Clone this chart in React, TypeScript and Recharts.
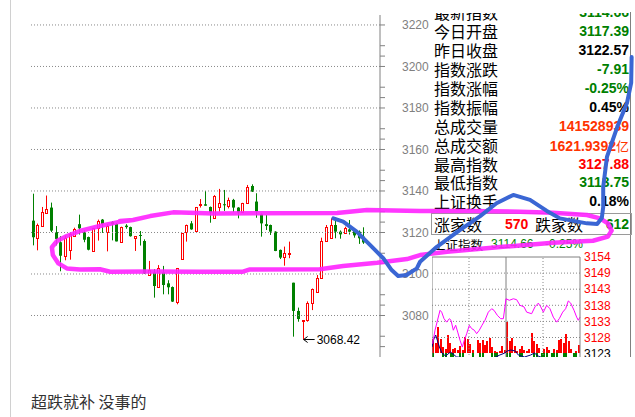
import React from "react";
import { ComposedChart, Bar, Line, Scatter, XAxis, YAxis, ReferenceLine, ReferenceDot } from "recharts";

// daily candles (open / close / high / low), oldest first
const opens = [3125.7, 3117.3, 3123, 3129.4, 3132, 3120.2, 3115.3, 3108.8, 3111.4, 3118.5, 3124, 3120.1, 3117.8, 3110.9, 3122.2, 3126.2, 3120.6, 3125, 3124.1, 3115.4, 3123.3, 3122.6, 3117.5, 3118.8, 3115.9, 3099.5, 3100.8, 3094, 3100.8, 3095.5, 3093.7, 3086.2, 3107.1, 3120, 3124.4, 3120.4, 3132.9, 3133.6, 3132.3, 3127.2, 3132.1, 3133.6, 3132.9, 3135.7, 3132, 3129.7, 3134.5, 3142.4, 3134.9, 3128.8, 3124, 3123.6, 3120.4, 3111.6, 3108, 3109.5, 3095.8, 3082.2, 3077.3, 3077.8, 3086.2, 3091.5, 3097.9, 3115.9, 3117.2, 3123.6, 3120.4, 3119.6, 3121.5, 3120.8, 3120.4, 3118];
const closes = [3117.7, 3123.8, 3129.9, 3131.3, 3120.9, 3116.9, 3108.8, 3117.3, 3119.3, 3121.7, 3122, 3116.5, 3111.7, 3122.2, 3125.4, 3124.1, 3123.3, 3124, 3115.7, 3122.6, 3122.6, 3118.2, 3118.3, 3118.5, 3100.3, 3101.9, 3094.2, 3103.1, 3094.7, 3093.6, 3086.7, 3102.7, 3119.6, 3123.6, 3121.5, 3132.1, 3133.6, 3132.9, 3129.6, 3137.6, 3134.1, 3133.4, 3135.7, 3132, 3129.6, 3134.1, 3142.1, 3139.7, 3130, 3124.4, 3123.1, 3120.4, 3111.1, 3107.9, 3110, 3110, 3082.2, 3078.3, 3077.8, 3086.2, 3092.8, 3098.2, 3115.9, 3122.8, 3123.6, 3120.4, 3119.1, 3122, 3120.4, 3118.6, 3117.2, 3115.2];
const highs = [3138.7, 3124.3, 3132.3, 3137.8, 3134.4, 3123.1, 3118.2, 3118.5, 3120, 3122.3, 3128.6, 3121, 3118, 3122.2, 3126.2, 3126.5, 3124, 3125.5, 3124.5, 3122.8, 3124, 3122.8, 3118.3, 3120.7, 3116.7, 3106.3, 3102.3, 3104.3, 3103.9, 3097, 3094, 3102.9, 3119.8, 3123.8, 3125.5, 3132.3, 3136.1, 3140, 3132.5, 3138, 3141, 3140.5, 3136.8, 3136.2, 3132.2, 3134.3, 3142.9, 3143.2, 3138.9, 3129.2, 3128.4, 3123.8, 3120.6, 3111.8, 3113.2, 3115.6, 3095.8, 3083.8, 3077.8, 3086.8, 3093, 3099.5, 3117.5, 3123.6, 3126.8, 3126.8, 3121, 3122.8, 3126, 3121.5, 3121, 3122.5];
const lows = [3113.8, 3111.4, 3123, 3129.4, 3120.2, 3113.8, 3101.3, 3106.6, 3106.9, 3118.5, 3119, 3115.3, 3111.4, 3110.9, 3116.1, 3119.8, 3110.9, 3116.2, 3115.7, 3115.4, 3121.8, 3118, 3111.1, 3113.7, 3100, 3099.2, 3088.6, 3094, 3090.2, 3090.2, 3086.5, 3085.4, 3107, 3115.6, 3121.3, 3120.4, 3132, 3132.9, 3124.7, 3127.2, 3130, 3130.4, 3131.6, 3129.8, 3126.8, 3129.5, 3134.5, 3139.5, 3127.1, 3118, 3121.2, 3118.8, 3111, 3107.2, 3104, 3107.6, 3069.8, 3077, 3068.42, 3077, 3082.6, 3091.5, 3097.9, 3115.9, 3117.2, 3117.2, 3117, 3119.6, 3119, 3117.5, 3114.5, 3114.5];

const gridValues = [3220, 3200, 3180, 3160, 3140, 3120, 3100, 3080];
const axisTicks = [3220, 3210, 3205, 3200, 3190, 3185, 3180, 3170, 3165, 3160, 3150, 3145, 3140, 3130, 3125, 3120, 3110, 3105, 3100, 3090, 3085, 3080, 3070, 3065];

// hand-drawn marks, in (candle index, index level)
const loopIdx = [21.6, 18.4, 14.5, 10.2, 7.4, 5.3, 4.2, 4.4, 5.6, 7.4, 10.2, 14.5, 16.7, 25.3, 36, 45.2, 46.7, 61.7, 66.7, 74, 80.4, 83.2, 89, 101, 111.7, 120.3, 123.5, 124.3, 123.5, 121.8, 119, 111.7, 104.6, 93.9, 83.2, 71.8, 65.4, 38.8, 30.2, 25.3, 21.6, 18.8];
const loopVal = [3126, 3125, 3123.1, 3120.7, 3118.3, 3115.9, 3112.9, 3109.1, 3105.1, 3102.7, 3102.2, 3102.3, 3101.1, 3101.2, 3101.1, 3101.1, 3102.2, 3102.3, 3103.8, 3105.4, 3107.2, 3109.1, 3110.7, 3113.1, 3115.1, 3116, 3118, 3120.9, 3124.4, 3126.8, 3128.4, 3129.5, 3130, 3130.4, 3130.4, 3130.8, 3129.4, 3129.2, 3129.7, 3127.9, 3126, 3125.5];
const curveIdx = [64.6, 66.7, 69.6, 72.45, 75.3, 77.1, 78.5, 80.3, 82.5, 83.2, 86.8, 91.8, 96.1, 99.6, 103.2, 106.8, 110.4, 113.2, 119, 121.2, 122.2, 122.5, 122.5, 123.3, 125.5, 127.6, 128.5, 128.6];
const curveVal = [3126.8, 3125.2, 3120.4, 3114, 3107.6, 3101.9, 3099, 3099.5, 3102.7, 3105.9, 3113.1, 3121.2, 3127.9, 3134.1, 3138.1, 3135.7, 3130.4, 3126.8, 3124.4, 3124.1, 3127, 3132.3, 3141.9, 3156.4, 3170.8, 3182.4, 3192.1, 3204.6];

// quote panel
const infoLabels = ["最新指数", "今日开盘", "昨日收盘", "指数涨跌", "指数涨幅", "指数振幅", "总成交量", "总成交额", "最高指数", "最低指数", "上证换手"];
const infoValues = ["3114.66", "3117.39", "3122.57", "-7.91", "-0.25%", "0.45%", "141528939", "1621.9392", "3127.88", "3113.75", "0.18%"];
const infoColors = ["#008000", "#008000", "#000", "#008000", "#008000", "#000", "#ff3300", "#ff3300", "#ff0000", "#008000", "#000"];

// intraday mini chart
const miniT = [1.1, 4.9, 13, 15.7, 19.5, 23.8, 28.1, 30.8, 34.6, 38.4, 41.7, 45.4, 49.2, 52.4, 56.3, 60.5, 64.4, 68.6, 72.4, 76.7, 81.1, 85.9, 91.3, 96.8, 100.5, 105.9, 111.4, 115.7, 120, 125.4, 131.9, 137.3, 142.7, 149.2, 153.5, 161.6, 167, 172.4, 176.3, 180.6, 186, 191.3, 196.7, 202.2, 206.4, 211.9, 216.7, 221, 224.9, 230.3, 234.6, 237.2, 240];
const miniPrice = [3126.2, 3130.5, 3136.9, 3136.3, 3134.2, 3133.1, 3134.2, 3133.7, 3130.5, 3132.1, 3129.9, 3127.3, 3125.1, 3127.3, 3129.4, 3132.1, 3131, 3130.5, 3129.4, 3130.5, 3132.1, 3133.7, 3136.3, 3137.4, 3136.9, 3135.3, 3134.2, 3134.2, 3140.6, 3140.1, 3140.6, 3140.3, 3138.5, 3138, 3136.3, 3135.8, 3138, 3139.2, 3138, 3136.3, 3138.5, 3137.4, 3134.7, 3133.1, 3134.2, 3136.3, 3137.4, 3139.9, 3139.2, 3136.9, 3134.7, 3133.7, 3134.7];
const volT = [2, 6, 10, 14, 18, 22, 26, 30, 34, 38, 42, 46, 50, 54, 58, 62, 66, 70, 74, 78, 82, 86, 90, 94, 98, 102, 106, 110, 114, 118, 122, 126, 130, 134, 138, 142, 146, 150, 154, 158, 162, 166, 170, 174, 178, 182, 186, 190, 194, 198, 202, 206, 210, 214, 218, 222, 226, 230, 234, 238];
const volUp = [14, 10, 26, 14, 6, 4, 18, 10, 4, 5, 3, 7, 3, 16, 14, 9, 3, 0, 13, 10, 13, 8, 12, 15, 6, 2, 1, 2, 7, 3, 31, 12, 15, 7, 2, 4, 7, 3, 2, 4, 20, 12, 9, 5, 0, 4, 6, 3, 0, 4, 3, 13, 14, 10, 19, 12, 4, 0, 2, 8];
const volDown = [-5, 0, 0, 0, -5, -5, 0, -5, -5, 0, 0, -5, -5, 0, 0, 0, -5, 0, 0, -5, -5, 0, 0, 0, -5, -5, -5, 0, 0, 0, -5, -5, 0, 0, 0, -5, -5, 0, 0, 0, 0, -5, -5, 0, -5, -5, -5, 0, -5, -5, -5, 0, 0, -5, -5, 0, 0, -5, -5, 0];
const navyT = [0, 3, 6, 9, 12, 16, 22, 30, 40, 60, 100, 110, 118, 122, 128, 135, 140, 150, 160, 166, 172, 180, 240];
const navyVal = [6, 14, 18, 12, 6, 0, -3, 1, -4, -5, -5, -2, 0, 2, 3, 2, -2, -4, -2, 0, -3, -5, -5];
const miniLabels = ["3154", "3149", "3143", "3138", "3133", "3128", "3123"];
const miniTop = 3154;
const miniBottom = 3123;

const RED = "#ff0000";
const GREEN = "#008000";
const CJK = '"Noto Sans CJK SC", sans-serif';
const NUM = '"Liberation Sans", Arial, sans-serif';

const candles = opens.map((o, i) => ({ i, open: o, close: closes[i], high: highs[i], low: lows[i] }));
const loopPts = loopIdx.map((x, i) => ({ x, y: loopVal[i] }));
const curvePts = curveIdx.map((x, i) => ({ x, y: curveVal[i] }));
const priceData = miniT.map((t, i) => ({ t, p: miniPrice[i] }));
const volData = volT.map((t, i) => ({ t, up: volUp[i], down: volDown[i] }));
const navyData = navyT.map((t, i) => ({ t, n: navyVal[i] }));
const miniTicks = miniLabels.map((_, k) => miniTop - (k * (miniTop - miniBottom)) / (miniLabels.length - 1));

const lowIdx = lows.indexOf(Math.min(...lows));

function Candle(props: any) {
  const { x, y, width, height, payload } = props;
  const { open, close, high, low } = payload;
  const c = Math.round(x + width / 2);
  const k = high > low ? height / (high - low) : 0;
  const py = (v: number) => y + (high - v) * k;
  const up = close >= open;
  const color = up ? RED : GREEN;
  const top = py(Math.max(open, close));
  const h = Math.max(1, py(Math.min(open, close)) - top);
  return (
    <g>
      <line x1={c + 0.5} x2={c + 0.5} y1={y} y2={y + height} stroke={color} />
      {up ? (
        <rect x={c - 0.5} y={Math.round(top) + 0.5} width={2} height={Math.max(1, Math.round(h))} fill="#fff" stroke={color} />
      ) : (
        <rect x={c - 1} y={top} width={3} height={h} fill={color} />
      )}
    </g>
  );
}

// volume stick: up values rise from the zero line, down values hang below it
function VolBar(props: any) {
  const { x, y, width, height, fill } = props;
  if (!height) return <g />;
  const top = height < 0 ? y + height : y;
  return <rect x={Math.round(x + width / 2) - 1} y={top} width={2} height={Math.abs(height)} fill={fill} />;
}

function MainTick(props: any) {
  const { x, y, payload } = props;
  if (payload.value % 20 !== 0) return <g />;
  return (
    <text x={x} y={y} dy="0.35em" textAnchor="start" fontSize={12} fontFamily={NUM} fill="#808080">
      {payload.value}
    </text>
  );
}

function MiniTick(props: any) {
  const { x, y, index } = props;
  const last = index === miniLabels.length - 1;
  return (
    <text x={x} y={y} dy="0.35em" textAnchor="start" fontSize={12} fontFamily={NUM} fill={last ? "#000" : RED}>
      {miniLabels[index]}
    </text>
  );
}

function LowMark(props: any) {
  const { cx, cy } = props;
  return (
    <g>
      <line x1={cx + 1} y1={cy} x2={cx + 12} y2={cy} stroke="#000" />
      <path d={`M${cx + 5},${cy - 3} L${cx + 1},${cy} L${cx + 5},${cy + 3}`} stroke="#000" fill="none" />
      <text x={cx + 14} y={cy} dy="0.36em" fontSize={12} fontFamily={NUM} fill="#000">
        {lows[lowIdx].toFixed(2)}
      </text>
    </g>
  );
}

const abs = (left: number, top: number, extra: React.CSSProperties = {}): React.CSSProperties => ({
  position: "absolute",
  left,
  top,
  ...extra,
});

export default function App() {
  const domain: [number, number] = [3060, 3224.8];
  return (
    <div style={{ position: "absolute", left: 0, top: 0, width: 635, height: 417, background: "#fff", overflow: "hidden" }}>
      <div style={abs(10, 0, { width: 1, height: 417, background: "#d0d0d0" })} />

      <div style={abs(0, 0, { width: 635, height: 357, overflow: "hidden" })}>
        {/* main candle chart */}
        <div style={abs(30, 15)}>
          <ComposedChart width={405} height={342} data={candles} margin={{ top: 0, right: 0, bottom: 0, left: 0 }}>
            <XAxis type="number" dataKey="i" domain={[-0.5, 74.6]} hide />
            <YAxis
              orientation="right"
              width={55}
              domain={domain}
              ticks={axisTicks}
              interval={0}
              allowDataOverflow
              axisLine={{ stroke: "#808080" }}
              tickLine={{ stroke: "#808080" }}
              tickSize={5}
              tickMargin={17}
              tick={MainTick}
            />
            {gridValues.map((v) => (
              <ReferenceLine key={v} y={v} stroke="#888" strokeDasharray="1 2" />
            ))}
            <Bar dataKey={(d: any) => [d.low, d.high]} barSize={3} shape={Candle} isAnimationActive={false} />
            <ReferenceDot x={lowIdx} y={lows[lowIdx]} r={0} shape={LowMark} />
          </ComposedChart>
        </div>

        {/* quote panel */}
        <div style={abs(0, 13, { width: 635, height: 344, overflow: "hidden" })}>
          {infoLabels.map((lab, i) => (
            <div key={lab} style={abs(432, 3.3 + 18.9 * i - 13, { width: 197, height: 19, lineHeight: "19px" })}>
              <span style={abs(2, 0, { fontFamily: CJK, fontSize: 16, color: "#000" })}>{lab}</span>
              <span style={{ position: "absolute", right: 0, top: 0, fontFamily: NUM, fontSize: 14, fontWeight: "bold", color: infoColors[i] }}>
                {infoValues[i]}
                {lab === "总成交额" ? <span style={{ fontFamily: CJK, fontWeight: "normal", fontSize: 13 }}>亿</span> : null}
              </span>
            </div>
          ))}
        </div>
        <div style={abs(630, 12, { width: 1, height: 345, background: "#808080" })} />

        <div style={abs(431, 213, { width: 199, height: 20, border: "1px solid #9a9a9a", lineHeight: "20px" })}>
          <span style={abs(2, 0, { fontFamily: CJK, fontSize: 16 })}>涨家数</span>
          <span style={abs(73, 0, { fontFamily: NUM, fontSize: 14, fontWeight: "bold", color: RED })}>570</span>
          <span style={abs(103, 0, { fontFamily: CJK, fontSize: 16 })}>跌家数</span>
          <span style={{ position: "absolute", right: 2, top: 0, fontFamily: NUM, fontSize: 14, fontWeight: "bold", color: GREEN }}>612</span>
        </div>
        <div style={abs(432, 235, { width: 198, height: 19, lineHeight: "19px" })}>
          <span style={abs(1, 0, { fontFamily: CJK, fontSize: 12.5 })}>上证指数</span>
          <span style={abs(59, 0, { fontFamily: NUM, fontSize: 12, color: GREEN })}>3114.66</span>
          <span style={abs(113, 0, { fontFamily: NUM, fontSize: 12, color: GREEN })}>-0.25%</span>
        </div>

        {/* intraday mini chart */}
        <div style={abs(432, 249)}>
          <ComposedChart width={200} height={118} data={volData} margin={{ top: 8, right: 0, bottom: 0, left: 0 }}>
            <XAxis type="number" dataKey="t" domain={[0, 240]} hide />
            <YAxis
              yAxisId="p"
              orientation="right"
              width={52}
              domain={[3118.7, 3154]}
              ticks={miniTicks}
              interval={0}
              allowDataOverflow
              axisLine={{ stroke: "#808080" }}
              tickLine={false}
              tickSize={0}
              tickMargin={4}
              tick={MiniTick}
            />
            <YAxis yAxisId="v" hide domain={[-14, 96]} allowDataOverflow />
            {miniTicks.slice(1, -1).map((v) => (
              <ReferenceLine key={v} yAxisId="p" y={v} stroke="#888" strokeDasharray="1 2" />
            ))}
            <ReferenceLine yAxisId="p" y={miniTop} stroke="#808080" />
            <ReferenceLine yAxisId="p" x={0} stroke="#808080" />
            <ReferenceLine yAxisId="p" x={60} stroke="#888" strokeDasharray="1 2" />
            <ReferenceLine yAxisId="p" x={120} stroke="#808080" />
            <ReferenceLine yAxisId="p" x={180} stroke="#888" strokeDasharray="1 2" />
            <Bar yAxisId="v" dataKey="up" fill={RED} barSize={2} shape={VolBar} isAnimationActive={false} />
            <Bar yAxisId="v" dataKey="down" fill={GREEN} barSize={2} shape={VolBar} isAnimationActive={false} />
            <Line yAxisId="v" data={navyData} dataKey="n" stroke="#000080" strokeWidth={1} dot={false} type="linear" isAnimationActive={false} />
            <Line yAxisId="p" data={priceData} dataKey="p" stroke="#ff00ff" strokeWidth={1} dot={false} type="linear" isAnimationActive={false} />
          </ComposedChart>
        </div>

        {/* hand-drawn marks over everything */}
        <div style={abs(30, 15, { pointerEvents: "none" })}>
          <ComposedChart width={605} height={342} margin={{ top: 0, right: 0, bottom: 0, left: 0 }}>
            <XAxis type="number" dataKey="x" domain={[-0.5, 129.32]} hide allowDataOverflow />
            <YAxis type="number" dataKey="y" domain={domain} hide allowDataOverflow />
            <Scatter
              data={loopPts}
              fill="#ff00ff"
              line={{ stroke: "#ff22ff", strokeWidth: 4.5, strokeLinecap: "round", strokeLinejoin: "round", strokeOpacity: 0.9 }}
              lineJointType="linear"
              shape={() => <g />}
              isAnimationActive={false}
            />
            <Scatter
              data={curvePts}
              fill="#3a66d4"
              line={{ stroke: "#3a66d4", strokeWidth: 4, strokeLinecap: "round", strokeLinejoin: "round" }}
              lineJointType="linear"
              shape={() => <g />}
              isAnimationActive={false}
            />
          </ComposedChart>
        </div>
      </div>

      <div style={abs(31, 390, { fontFamily: CJK, fontSize: 16, lineHeight: "22px", color: "#333" })}>超跌就补 没事的</div>
    </div>
  );
}
